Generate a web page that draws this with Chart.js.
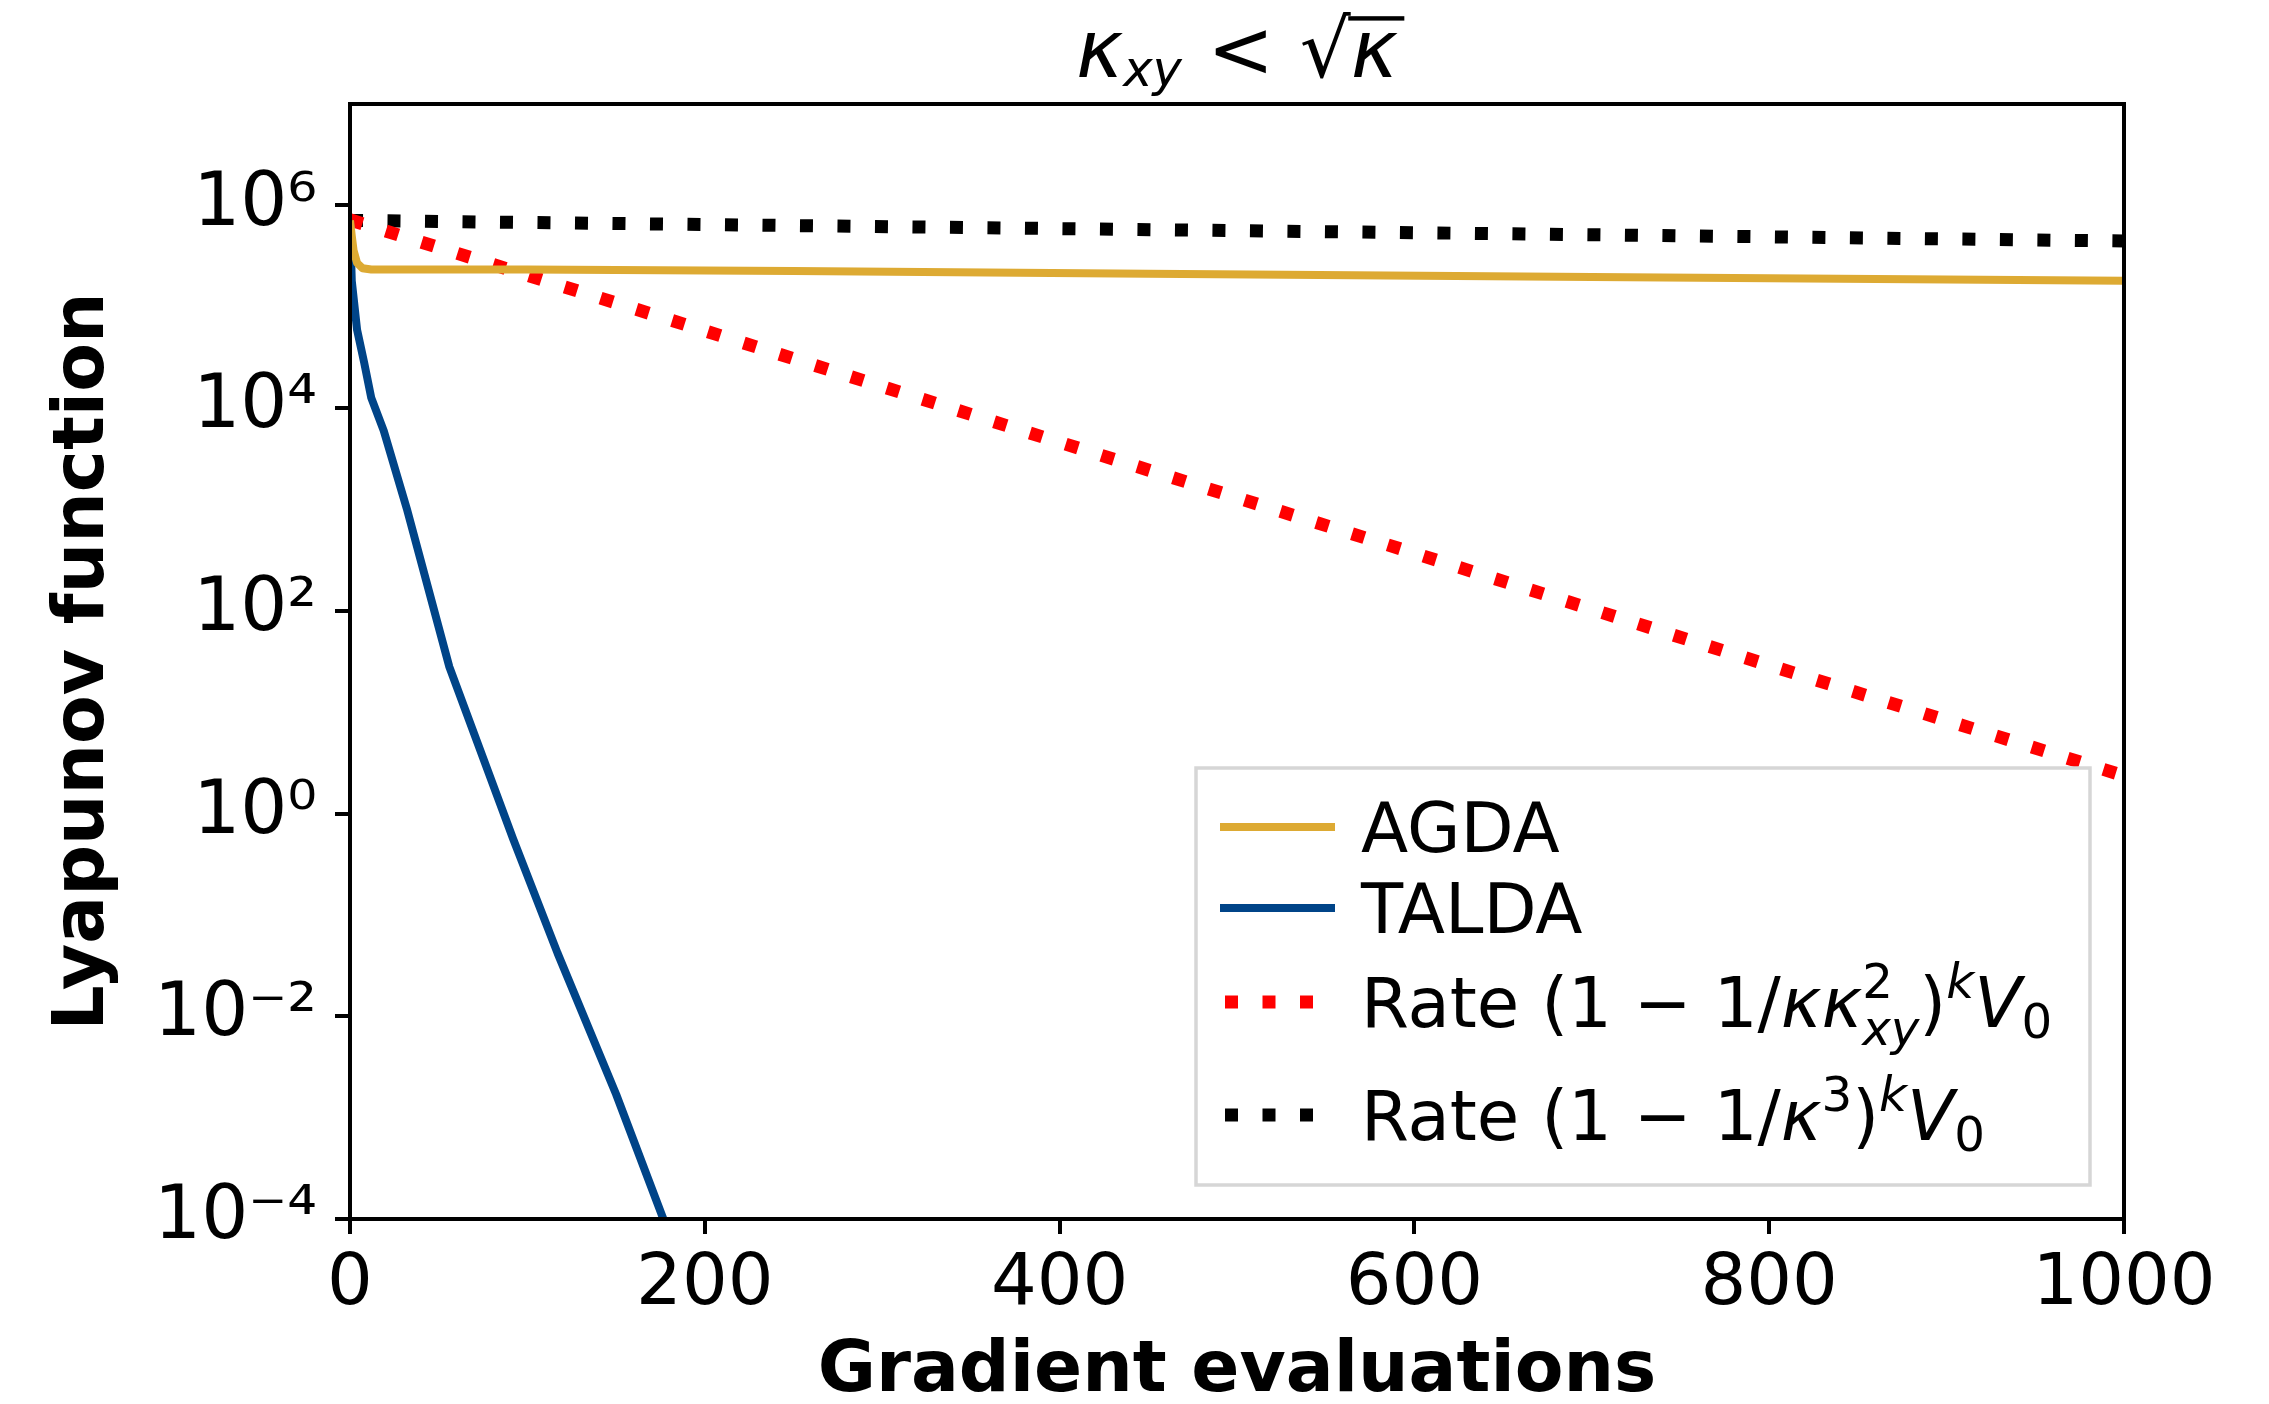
<!DOCTYPE html>
<html>
<head>
<meta charset="utf-8">
<script src="https://cdn.jsdelivr.net/npm/chart.js@4.4.1/dist/chart.umd.min.js"></script>
<style>
  html, body { margin: 0; background: #fff; }
</style>
</head>
<body>
<canvas id="myChart" width="2269" height="1404"></canvas>
<script>
// values
const agdaX = [0, 1, 2, 4, 7, 12, 100, 250, 450, 700, 1000]
const agdaY = [7.1e5, 5.0e5, 3.6e5, 2.7e5, 2.4e5, 2.33e5, 2.33e5, 2.25e5, 2.12e5, 1.97e5, 1.8e5]

const taldaX = [0, 1, 4, 8, 12, 19, 32, 56, 92, 117, 150, 176, 190]
const taldaY = [7.1e5, 1.8e5, 5.9e4, 2.8e4, 1.26e4, 6.0e3, 1.02e3, 28, 0.56, 0.042, 1.7e-3, 1.07e-4, 2.5e-5]

const redX = [0, 200, 400, 600, 800, 1000]
const redY = [7.2e5, 5.8e4, 4.6e3, 370, 29, 2.36]

const blackX = [0, 250, 500, 750, 1000]
const blackY = [7.1e5, 6.32e5, 5.63e5, 5.01e5, 4.45e5]

const xTicks = [0, 200, 400, 600, 800, 1000]
const xTickLabels = ['0', '200', '400', '600', '800', '1000']
const yTicks = [1e-4, 1e-2, 1, 1e2, 1e4, 1e6]
const yTickLabels = ['10⁻⁴', '10⁻²', '10⁰', '10²', '10⁴', '10⁶']

const FONT = '"DejaVu Sans"'

const pts = (xs, ys) => xs.map((x, i) => ({ x: x, y: ys[i] }))

// rich text runs for math-like labels
const legendRuns = [
  [{ t: 'AGDA' }],
  [{ t: 'TALDA' }],
  [{ t: 'Rate (1 − 1/' }, { t: 'κκ', it: true }, { t: '2', pos: 'sup', keep: true },
   { t: 'xy', pos: 'sub', it: true, drop: 0.26 }, { t: ')' }, { t: 'k', pos: 'sup', it: true },
   { t: 'V', it: true }, { t: '0', pos: 'sub', drop: 0.16 }],
  [{ t: 'Rate (1 − 1/' }, { t: 'κ', it: true }, { t: '3', pos: 'sup' }, { t: ')' },
   { t: 'k', pos: 'sup', it: true }, { t: 'V', it: true }, { t: '0', pos: 'sub', drop: 0.16 }]
]
const titleRuns = [
  { t: 'κ', it: true }, { t: 'xy', pos: 'sub', it: true, drop: 0.11, scale: 0.62 },
  { t: ' < ' }, { t: '√', root: true }, { t: 'κ', it: true, bar: true }
]

function drawRuns(ctx, runs, x, y, size, dry) {
  let cx = x
  let kept = 0
  let rootEnd = null
  for (const r of runs) {
    const sc = r.pos ? (r.scale || 0.7) : 1
    const s = size * sc
    ctx.font = (r.it ? 'italic ' : '') + s + 'px ' + FONT
    let yy = y
    if (r.pos === 'sup') yy = y - size * 0.42
    if (r.pos === 'sub') yy = y + size * (r.drop || 0.2)
    const w = ctx.measureText(r.t).width
    if (!dry) ctx.fillText(r.t, cx, yy)
    if (r.root) rootEnd = cx + w * 0.95
    if (r.bar && !dry && rootEnd !== null) {
      ctx.fillRect(rootEnd, y - size * 0.76, cx + w + size * 0.08 - rootEnd, size * 0.055)
    }
    if (r.keep) {
      kept = w
    } else {
      cx += Math.max(w, kept)
      kept = 0
    }
  }
  return cx - x
}

const framePlugin = {
  id: 'frame',
  afterDatasetsDraw(chart) {
    const { ctx, chartArea: a } = chart
    ctx.save()
    ctx.strokeStyle = '#000'
    ctx.lineWidth = 4
    ctx.strokeRect(a.left, a.top, a.right - a.left, a.bottom - a.top)
    ctx.restore()
  }
}

const legendPlugin = {
  id: 'mathLegend',
  afterDraw(chart) {
    const { ctx, chartArea: a } = chart
    const bw = 894, bh = 417
    const bx = a.right - 34 - bw, by = a.bottom - 34 - bh
    ctx.save()
    ctx.fillStyle = 'rgba(255,255,255,0.8)'
    ctx.fillRect(bx, by, bw, bh)
    ctx.strokeStyle = '#d6d6d6'
    ctx.lineWidth = 3.5
    ctx.strokeRect(bx, by, bw, bh)
    const baselines = [84, 165, 259, 372]
    chart.data.datasets.forEach((ds, i) => {
      const base = by + baselines[i]
      const cy = base - 25
      ctx.save()
      ctx.strokeStyle = ds.borderColor
      ctx.lineWidth = ds.borderWidth
      ctx.lineCap = 'butt'
      if (ds.borderDash) {
        ctx.setLineDash(ds.borderDash)
        ctx.beginPath(); ctx.moveTo(bx + 29, cy); ctx.lineTo(bx + 122, cy); ctx.stroke()
      } else {
        ctx.beginPath(); ctx.moveTo(bx + 24, cy); ctx.lineTo(bx + 139, cy); ctx.stroke()
      }
      ctx.restore()
      ctx.fillStyle = '#000'
      ctx.textBaseline = 'alphabetic'
      ctx.textAlign = 'left'
      drawRuns(ctx, legendRuns[i], bx + 165, base, 69)
    })
    ctx.restore()
  }
}

const titlePlugin = {
  id: 'mathTitle',
  afterDraw(chart) {
    const { ctx, chartArea: a } = chart
    ctx.save()
    ctx.fillStyle = '#000'
    ctx.textBaseline = 'alphabetic'
    ctx.textAlign = 'left'
    const size = 80
    const w = drawRuns(ctx, titleRuns, 0, 0, size, true)
    drawRuns(ctx, titleRuns, (a.left + a.right) / 2 - w / 2, 77, size)
    ctx.restore()
  }
}

const myChart = document.getElementById('myChart').getContext('2d')

const lyapChart = new Chart(myChart, {
  type: 'line',
  data: {
    datasets: [{
      label: 'AGDA',
      data: pts(agdaX, agdaY),
      borderColor: '#DDAA33',
      borderWidth: 8,
      borderJoinStyle: 'round',
      fill: false,
      pointRadius: 0,
      tension: 0,
      clip: 0
    }, {
      label: 'TALDA',
      data: pts(taldaX, taldaY),
      borderColor: '#004488',
      borderWidth: 8,
      borderJoinStyle: 'round',
      fill: false,
      pointRadius: 0,
      tension: 0,
      clip: 0
    }, {
      label: 'Rate (1 − 1/κκxy²)^k V0',
      data: pts(redX, redY),
      borderColor: '#FF0000',
      borderWidth: 13,
      borderDash: [13, 24.5],
      borderCapStyle: 'butt',
      fill: false,
      pointRadius: 0,
      tension: 0,
      clip: 0
    }, {
      label: 'Rate (1 − 1/κ³)^k V0',
      data: pts(blackX, blackY),
      borderColor: '#000000',
      borderWidth: 13,
      borderDash: [13, 24.5],
      borderCapStyle: 'butt',
      fill: false,
      pointRadius: 0,
      tension: 0,
      clip: 0
    }]
  },
  options: {
    responsive: false,
    animation: false,
    devicePixelRatio: 1,
    layout: { padding: { left: 0, right: 145, top: 104, bottom: 0 } },
    plugins: {
      legend: { display: false },
      title: { display: false },
      tooltip: { enabled: false }
    },
    scales: {
      x: {
        type: 'linear',
        min: 0,
        max: 1000,
        afterBuildTicks: s => { s.ticks = xTicks.map(v => ({ value: v })) },
        afterFit: s => { s.height = 185 },
        ticks: {
          font: { family: FONT, size: 72 },
          color: '#000',
          padding: 8,
          maxRotation: 0,
          autoSkip: false,
          callback: (v, i) => xTickLabels[i]
        },
        grid: { drawOnChartArea: false, drawTicks: true, tickLength: 15, lineWidth: 4, color: '#000' },
        border: { display: false },
        title: {
          display: true,
          text: 'Gradient evaluations',
          color: '#000',
          font: { family: FONT, size: 71, weight: 'bold', lineHeight: 1 },
          padding: { top: 0, bottom: -4 }
        }
      },
      y: {
        type: 'logarithmic',
        min: 1e-4,
        max: 1e7,
        afterBuildTicks: s => { s.ticks = yTicks.map(v => ({ value: v })) },
        afterFit: s => { s.width = 350 },
        ticks: {
          font: { family: FONT, size: 74 },
          color: '#000',
          padding: 18,
          autoSkip: false,
          callback: (v, i) => yTickLabels[i]
        },
        grid: { drawOnChartArea: false, drawTicks: true, tickLength: 15, lineWidth: 4, color: '#000' },
        border: { display: false },
        title: {
          display: true,
          text: 'Lyapunov function',
          color: '#000',
          font: { family: FONT, size: 71, weight: 'bold', lineHeight: 1.2 },
          padding: { top: 42, bottom: 0 }
        }
      }
    }
  },
  plugins: [framePlugin, legendPlugin, titlePlugin]
})
</script>
</body>
</html>
